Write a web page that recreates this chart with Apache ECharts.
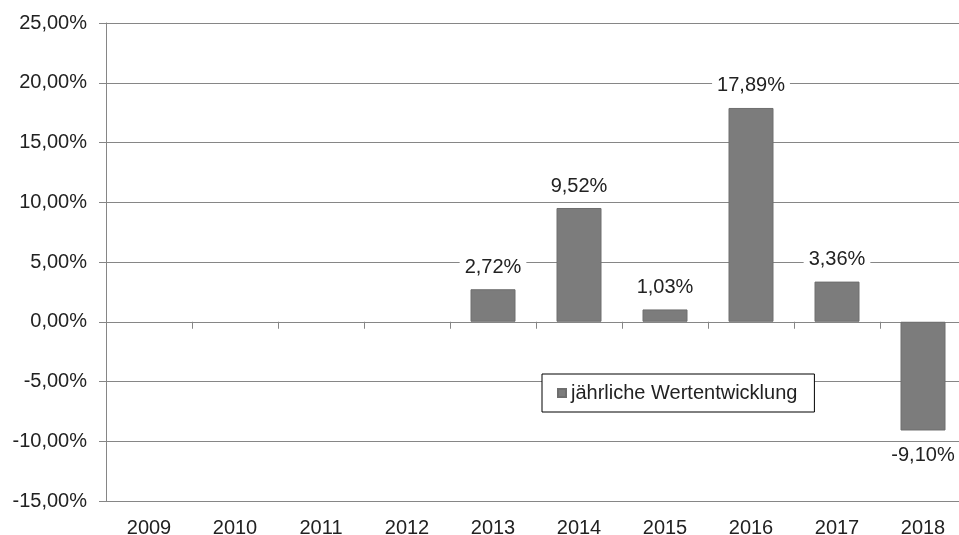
<!DOCTYPE html>
<html>
<head>
<meta charset="utf-8">
<script src="https://cdn.jsdelivr.net/npm/echarts@6/dist/echarts.min.js"></script>
<style>
  html, body { margin: 0; padding: 0; background: #fff; }
  #chart { width: 959px; height: 535px; }
</style>
</head>
<body>
<div id="chart"></div>
<script>
const years = ["2009", "2010", "2011", "2012", "2013", "2014", "2015", "2016", "2017", "2018"];
const growth = [null, null, null, null, 2.72, 9.52, 1.03, 17.89, 3.36, -9.10];
const seriesName = "jährliche Wertentwicklung";

const fmt = v => v.toFixed(2).replace(".", ",") + "%";
const fontFamily = "'Liberation Sans', Arial, sans-serif";
const lineColor = "#868686";
const textColor = "#222";

// negative bar gets its label underneath
const barData = growth.map(v => {
    if (v === null) return null;
    return {
        value: v,
        label: v < 0 ? { position: "bottom", distance: 14 } : { position: "top" }
    };
});

const graph = echarts.init(document.getElementById("chart"));
const option = {
    animation: false,
    backgroundColor: "#fff",
    textStyle: { fontFamily },
    // plot area runs past the right edge of the picture, like the cropped original
    grid: { left: 106, top: 23, bottom: 34, width: 860, outerBoundsMode: "none" },
    legend: {
        left: 542,
        top: 374,
        icon: "rect",
        itemWidth: 8,
        itemHeight: 8,
        itemGap: 4,
        padding: [9, 17, 9, 15],
        backgroundColor: "#fff",
        borderColor: "#000",
        borderWidth: 1,
        borderRadius: 0,
        textStyle: { fontSize: 20, color: textColor, fontFamily },
        data: [seriesName]
    },
    xAxis: [
        {
            type: "category",
            data: years,
            position: "bottom",
            axisLine: { show: false, onZero: false },
            axisTick: { show: false },
            axisLabel: { fontSize: 20, color: textColor, margin: 17, fontFamily }
        },
        {
            // axis line with ticks sitting on 0 %
            type: "category",
            data: years,
            position: "top",
            axisLine: { show: true, onZero: true, lineStyle: { color: lineColor } },
            axisTick: { show: true, inside: true, length: 7, lineStyle: { color: lineColor } },
            axisLabel: { show: false }
        }
    ],
    yAxis: {
        type: "value",
        min: -15,
        max: 25,
        interval: 5,
        axisLine: { show: true, lineStyle: { color: lineColor } },
        axisTick: { show: true, length: 7, lineStyle: { color: lineColor } },
        splitLine: { show: true, lineStyle: { color: lineColor } },
        axisLabel: {
            fontSize: 20,
            color: textColor,
            margin: 19,
            fontFamily,
            formatter: v => fmt(v)
        }
    },
    series: [
        {
            name: seriesName,
            type: "bar",
            xAxisIndex: 0,
            barWidth: 45,
            itemStyle: { color: "#7c7c7c", borderColor: "#6e6e6e", borderWidth: 1 },
            label: {
                show: true,
                distance: 11,
                fontSize: 20,
                color: textColor,
                fontFamily,
                backgroundColor: "#fff",
                padding: [1, 5],
                formatter: p => fmt(p.value)
            },
            data: barData
        }
    ]
};
graph.setOption(option);
</script>
</body>
</html>
